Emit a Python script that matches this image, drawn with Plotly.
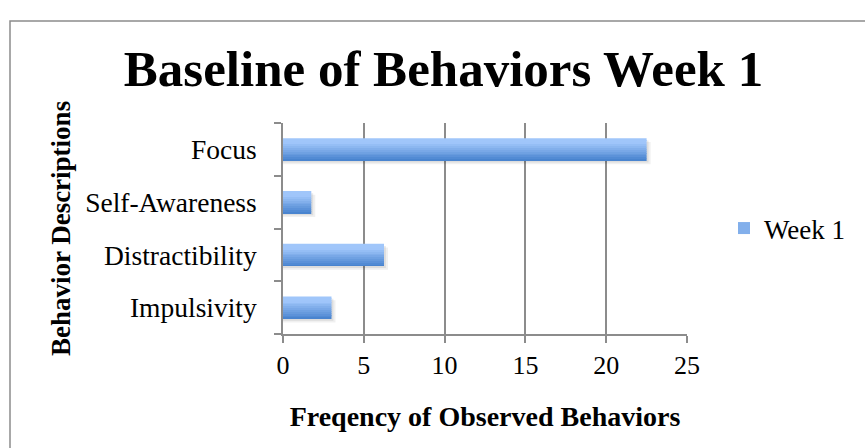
import plotly.graph_objects as go

categories = ["Impulsivity", "Distractibility", "Self-Awareness", "Focus"]
week1 = [3.0, 6.25, 1.75, 22.5]
x_ticks = [0, 5, 10, 15, 20, 25]
series_name = "Week 1"

W, H = 865, 448
L, R, T, B = 283, 178, 123, 114
pw = W - L - R
ph = H - T - B

FONT = "Liberation Serif"
GRID = "#8c8c8c"

fig = go.Figure()

bar_w = 0.42
# soft shadow
for k, (dx, dy, a) in enumerate([(0.25, 0.07, 0.06), (0.12, 0.04, 0.08)]):
    fig.add_trace(go.Bar(
        y=categories, x=[v + dx for v in week1], orientation="h",
        width=bar_w, offset=-bar_w / 2 - dy,
        marker=dict(color=f"rgba(0,0,0,{a})", line=dict(width=0)),
        showlegend=False, hoverinfo="skip"))

# gradient strips (bottom dark -> top light)
n = 12
c_bot = (68, 128, 205)
c_top = (160, 198, 250)
for i in range(n):
    t = (i + 0.5) / n
    t2 = min(1.0, t * 1.25)
    col = tuple(int(round(c_bot[j] + (c_top[j] - c_bot[j]) * t2)) for j in range(3))
    fig.add_trace(go.Bar(
        y=categories, x=week1, orientation="h",
        width=bar_w / n * 1.02, offset=-bar_w / 2 + i * bar_w / n,
        marker=dict(color=f"rgb{col}", line=dict(width=0)),
        name=series_name, showlegend=(i == n // 2),
        hovertemplate="%{y}: %{x}<extra></extra>"))

fig.update_layout(
    width=W, height=H,
    margin=dict(l=L, r=R, t=T, b=B, autoexpand=False),
    paper_bgcolor="white", plot_bgcolor="white",
    barmode="overlay",
    font=dict(family=FONT, color="black", size=27),
    title=dict(text="<b>Baseline of Behaviors Week 1</b>",
               font=dict(family=FONT, size=51, color="black"),
               x=443.5 / W, xanchor="center", xref="container",
               y=1 - 68 / H, yanchor="middle", yref="container"),
    legend=dict(x=(724 - L) / pw, xanchor="left", y=0.5, yanchor="middle",
                font=dict(size=27, family=FONT), bgcolor="rgba(0,0,0,0)",
                itemwidth=30),
    xaxis=dict(range=[0, 25], tickvals=x_ticks, ticktext=[str(v) for v in x_ticks],
               showgrid=True, gridcolor=GRID, gridwidth=1.5,
               showline=True, linecolor=GRID, linewidth=1.5,
               ticks="outside", ticklen=7, tickcolor=GRID, tickwidth=1.5,
               tickfont=dict(size=26), zeroline=False,
               title=dict(text="<b>Freqency of Observed Behaviors</b>",
                          font=dict(size=28), standoff=27)),
    yaxis=dict(type="category", categoryorder="array", categoryarray=categories,
               showgrid=False, showline=True, linecolor=GRID, linewidth=1.5,
               ticks="outside", ticklen=7, tickcolor=GRID, tickwidth=1.5,
               tickson="boundaries", tickfont=dict(size=27.5),
               ticklabelstandoff=19,
               title=dict(text="<b>Behavior Descriptions</b>",
                          font=dict(size=27), standoff=7)),
    shapes=[dict(type="rect", xref="paper", yref="paper",
                 x0=(10 - L) / pw, x1=(872 - L) / pw,
                 y0=(T + ph - 21) / ph, y1=(T + ph - 470) / ph,
                 line=dict(color="#8c8c8c", width=1.5), layer="below")],
)

fig.write_html("out.html", config={"displayModeBar": False},
               post_script="document.body.style.margin='0px';")
